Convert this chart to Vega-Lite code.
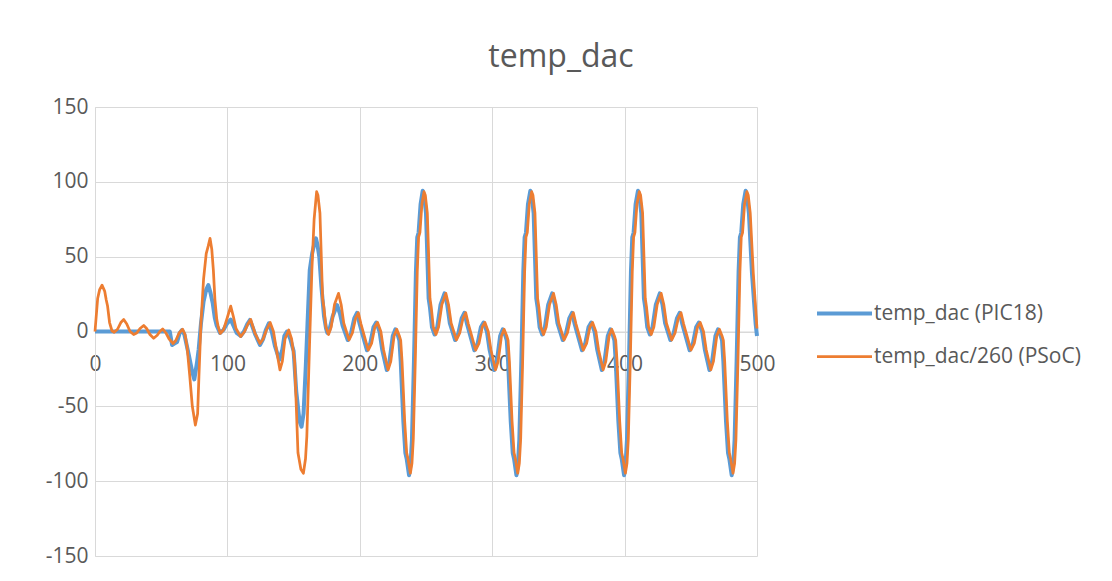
{
"$schema": "https://vega.github.io/schema/vega-lite/v6.json",
"width": 662, "height": 449,
"autosize": "none",
"padding": {"left": 95, "top": 107, "right": 355, "bottom": 25},
"background": "white",
"config": {"font": "Open Sans", "view": {"stroke": null}},
"title": {"text": "temp_dac", "fontSize": 32, "fontWeight": "normal", "color": "#595959", "anchor": "middle", "frame": "group", "dx": 135, "offset": 22},
"encoding": {
 "x": {"field": "x", "type": "quantitative", "scale": {"domain": [0, 500], "nice": false},
  "axis": {"values": [0, 100, 200, 300, 400, 500], "offset": -224.5, "ticks": false, "domainColor": "#d9d9d9", "gridColor": "#d9d9d9", "labelFontSize": 21, "labelColor": "#595959", "labelPadding": 22, "labelFlush": false, "labelOverlap": false, "title": null}},
 "y": {"field": "y", "type": "quantitative", "scale": {"domain": [-150, 150], "nice": false},
  "axis": {"values": [-150, -100, -50, 0, 50, 100, 150], "labelExpr": "toString(datum.value)", "ticks": false, "domainColor": "#d9d9d9", "gridColor": "#d9d9d9", "labelFontSize": 21, "labelColor": "#595959", "labelPadding": 7, "title": null}}
},
"layer": [
 {
  "data": {"values": [
{"x":0,"y":0},{"x":56.5,"y":0},{"x":58.2,"y":-9},{"x":60,"y":-8},{"x":62,"y":-7},{"x":64,"y":-1},{"x":65.7,"y":1},{"x":67.5,"y":-2},{"x":70.7,"y":-15},{"x":73.2,"y":-26},{"x":75,"y":-32},{"x":77,"y":-21},{"x":78.3,"y":-12},{"x":80,"y":5},{"x":82,"y":20},{"x":84,"y":28},{"x":85.6,"y":31},{"x":87.2,"y":26},{"x":88.9,"y":19},{"x":90.5,"y":9},{"x":91.9,"y":4},{"x":94.4,"y":-1},{"x":97,"y":1},{"x":99.5,"y":5},{"x":102.5,"y":8},{"x":104.5,"y":4},{"x":107,"y":-1},{"x":110,"y":-3},{"x":112.5,"y":0},{"x":115,"y":5},{"x":117,"y":7.7},{"x":119,"y":3},{"x":121,"y":-2},{"x":124.6,"y":-9},{"x":127,"y":-5},{"x":129,"y":1},{"x":131.3,"y":5.5},{"x":133.5,"y":0},{"x":136,"y":-10},{"x":139.2,"y":-19},{"x":141.5,"y":-12},{"x":143,"y":-3},{"x":145,"y":0},{"x":147.5,"y":-5},{"x":150,"y":-13},{"x":152,"y":-40},{"x":154.5,"y":-60},{"x":156,"y":-63.6},{"x":157.5,"y":-55},{"x":159.2,"y":-23.5},{"x":160.5,"y":5},{"x":162.2,"y":41},{"x":164,"y":52},{"x":165.5,"y":58},{"x":166.9,"y":62.2},{"x":168,"y":58},{"x":169.4,"y":50},{"x":171,"y":30},{"x":173,"y":10},{"x":174.5,"y":2},{"x":175.5,"y":-1},{"x":177,"y":1},{"x":179.5,"y":10},{"x":182.8,"y":17.7},{"x":185,"y":12},{"x":187,"y":4},{"x":190.9,"y":-5.7},
{"x":193.4,"y":-1},{"x":195.9,"y":9},{"x":197.9,"y":12.5},{"x":199.9,"y":5},{"x":202.4,"y":-3},{"x":205.4,"y":-12.5},{"x":207.9,"y":-8},{"x":210.4,"y":3},{"x":212.4,"y":6},{"x":214.9,"y":0},{"x":216.9,"y":-12},{"x":220.4,"y":-25.7},{"x":222.4,"y":-20},{"x":224.9,"y":-3},{"x":226.9,"y":1.5},{"x":228.9,"y":-3},{"x":229.9,"y":-6},{"x":230.9,"y":-20},{"x":232.9,"y":-60},{"x":234.4,"y":-81},{"x":235.4,"y":-85},{"x":237.2,"y":-96},{"x":238.4,"y":-88},{"x":239.4,"y":-72},{"x":240.9,"y":-20},{"x":242.4,"y":40},{"x":243.4,"y":63},{"x":244.4,"y":66},{"x":245.9,"y":85},
{"x":247.5,"y":94},{"x":248.5,"y":91},{"x":250,"y":79},{"x":252,"y":22},{"x":253,"y":16},{"x":254.5,"y":3},{"x":256.5,"y":-2},{"x":258.5,"y":3},{"x":261,"y":18},{"x":264,"y":25.5},{"x":266,"y":18},{"x":268,"y":5.5},{"x":272,"y":-5.7},{"x":274.5,"y":-1},{"x":277,"y":9},{"x":279,"y":12.5},{"x":281,"y":5},{"x":283.5,"y":-3},{"x":286.5,"y":-12.5},{"x":289,"y":-8},{"x":291.5,"y":3},{"x":293.5,"y":6},{"x":296,"y":0},{"x":298,"y":-12},{"x":301.5,"y":-25.7},{"x":303.5,"y":-20},{"x":306,"y":-3},{"x":308,"y":1.5},{"x":310,"y":-3},{"x":311,"y":-6},{"x":312,"y":-20},{"x":314,"y":-60},{"x":315.5,"y":-81},{"x":316.5,"y":-85},{"x":318.3,"y":-96},{"x":319.5,"y":-88},{"x":320.5,"y":-72},{"x":322,"y":-20},{"x":323.5,"y":40},{"x":324.5,"y":63},{"x":325.5,"y":66},{"x":327,"y":85},
{"x":328.8,"y":94},{"x":329.8,"y":91},{"x":331.3,"y":79},{"x":333.3,"y":22},{"x":334.3,"y":16},{"x":335.8,"y":3},{"x":337.8,"y":-2},{"x":339.8,"y":3},{"x":342.3,"y":18},{"x":345.3,"y":25.5},{"x":347.3,"y":18},{"x":349.3,"y":5.5},{"x":353.3,"y":-5.7},{"x":355.8,"y":-1},{"x":358.3,"y":9},{"x":360.3,"y":12.5},{"x":362.3,"y":5},{"x":364.8,"y":-3},{"x":367.8,"y":-12.5},{"x":370.3,"y":-8},{"x":372.8,"y":3},{"x":374.8,"y":6},{"x":377.3,"y":0},{"x":379.3,"y":-12},{"x":382.8,"y":-25.7},{"x":384.8,"y":-20},{"x":387.3,"y":-3},{"x":389.3,"y":1.5},{"x":391.3,"y":-3},{"x":392.3,"y":-6},{"x":393.3,"y":-20},{"x":395.3,"y":-60},{"x":396.8,"y":-81},{"x":397.8,"y":-85},{"x":399.6,"y":-96},{"x":400.8,"y":-88},{"x":401.8,"y":-72},{"x":403.3,"y":-20},{"x":404.8,"y":40},{"x":405.8,"y":63},{"x":406.8,"y":66},{"x":408.3,"y":85},
{"x":410.1,"y":94},{"x":411.1,"y":91},{"x":412.6,"y":79},{"x":414.6,"y":22},{"x":415.6,"y":16},{"x":417.1,"y":3},{"x":419.1,"y":-2},{"x":421.1,"y":3},{"x":423.6,"y":18},{"x":426.6,"y":25.5},{"x":428.6,"y":18},{"x":430.6,"y":5.5},{"x":434.6,"y":-5.7},{"x":437.1,"y":-1},{"x":439.6,"y":9},{"x":441.6,"y":12.5},{"x":443.6,"y":5},{"x":446.1,"y":-3},{"x":449.1,"y":-12.5},{"x":451.6,"y":-8},{"x":454.1,"y":3},{"x":456.1,"y":6},{"x":458.6,"y":0},{"x":460.6,"y":-12},{"x":464.1,"y":-25.7},{"x":466.1,"y":-20},{"x":468.6,"y":-3},{"x":470.6,"y":1.5},{"x":472.6,"y":-3},{"x":473.6,"y":-6},{"x":474.6,"y":-20},{"x":476.6,"y":-60},{"x":478.1,"y":-81},{"x":479.1,"y":-85},{"x":480.9,"y":-96},{"x":482.1,"y":-88},{"x":483.1,"y":-72},{"x":484.6,"y":-20},{"x":486.1,"y":40},{"x":487.1,"y":63},{"x":488.1,"y":66},{"x":489.6,"y":85},
{"x":491.4,"y":94},{"x":492.4,"y":91},{"x":493.9,"y":79},{"x":496.2,"y":39},{"x":499,"y":5},{"x":500,"y":-3}
  ]},
  "mark": {"type": "line", "strokeWidth": 4, "strokeJoin": "round"},
  "encoding": {"color": {"datum": "temp_dac (PIC18)", "type": "nominal",
   "scale": {"domain": ["temp_dac (PIC18)", "temp_dac/260 (PSoC)"], "range": ["#5B9BD5", "#ED7D31"]},
   "legend": {"orient": "none", "legendX": 739, "legendY": 196, "title": null, "symbolType": "stroke", "symbolSize": 3025, "rowPadding": 21, "padding": 0, "labelOffset": 19, "labelFontSize": 21, "labelColor": "#595959", "labelLimit": 400,
    "encode": {"symbols": {"update": {"strokeWidth": {"signal": "datum.value === 'temp_dac (PIC18)' ? 4 : 2.75"}}}}}}}
 },
 {
  "data": {"values": [
{"x":0,"y":0},{"x":2,"y":22},{"x":3.5,"y":28},{"x":5.3,"y":31},{"x":7.3,"y":27},{"x":8.5,"y":21},{"x":9.5,"y":17},{"x":11,"y":6},{"x":12.8,"y":0.5},{"x":14.5,"y":-0.5},{"x":17,"y":1.5},{"x":19.5,"y":6},{"x":21.7,"y":8},{"x":24,"y":5},{"x":26.5,"y":0},{"x":29.2,"y":-2},{"x":31.5,"y":-1},{"x":34,"y":2},{"x":36.8,"y":4},{"x":39,"y":2},{"x":41.5,"y":-2},{"x":44.3,"y":-4.5},{"x":47,"y":-2.5},{"x":49,"y":0},{"x":51.1,"y":1.7},{"x":53.6,"y":-1},{"x":56,"y":-5},{"x":59,"y":-8},{"x":61,"y":-6},{"x":63.5,"y":-1},{"x":66.2,"y":1.5},{"x":68,"y":-2},{"x":69.5,"y":-10},{"x":71.5,"y":-29},{"x":73.5,"y":-50},{"x":75.8,"y":-62.5},{"x":77.5,"y":-55},{"x":78.5,"y":-30},{"x":80,"y":5},{"x":82,"y":35},{"x":84,"y":52},{"x":85.5,"y":57},{"x":86.9,"y":62.2},{"x":88.2,"y":55},{"x":89.4,"y":41},{"x":90.6,"y":21},{"x":92,"y":8},{"x":93.1,"y":3},{"x":94.6,"y":-1.3},{"x":97,"y":1},{"x":99.5,"y":8},{"x":102.5,"y":17},{"x":104.5,"y":10},{"x":106.5,"y":2},{"x":110,"y":-3.4},{"x":113,"y":0},{"x":115.5,"y":5},{"x":117.6,"y":8},{"x":119,"y":4},{"x":120.8,"y":-1},{"x":124.6,"y":-8},{"x":127,"y":-5},{"x":129.5,"y":1},{"x":132.3,"y":6},{"x":134.8,"y":0},{"x":137,"y":-12},{"x":139.7,"y":-25.7},{"x":141.5,"y":-20},{"x":143.5,"y":-5},{"x":146.3,"y":1},{"x":148.5,"y":-5},{"x":150.8,"y":-20},{"x":153.3,"y":-81},{"x":155.5,"y":-92},{"x":157.4,"y":-94.7},{"x":159,"y":-85},{"x":160,"y":-70},{"x":162,"y":-10},{"x":163.8,"y":41},{"x":165.5,"y":75},{"x":167.4,"y":93.4},
{"x":168.4,"y":91},{"x":169.9,"y":79},{"x":171.9,"y":22},{"x":172.9,"y":16},{"x":174.4,"y":3},{"x":176.4,"y":-2},{"x":178.4,"y":3},{"x":180.9,"y":18},{"x":183.9,"y":25.5},{"x":185.9,"y":18},{"x":187.9,"y":5.5},{"x":191.9,"y":-5.7},{"x":194.4,"y":-1},{"x":196.9,"y":9},{"x":198.9,"y":12.5},{"x":200.9,"y":5},{"x":203.4,"y":-3},{"x":206.4,"y":-12.5},{"x":208.9,"y":-8},{"x":211.4,"y":3},{"x":213.4,"y":6},{"x":215.9,"y":0},{"x":217.9,"y":-12},{"x":221.4,"y":-25.7},{"x":223.4,"y":-20},{"x":225.9,"y":-3},{"x":227.9,"y":1.5},{"x":229.9,"y":-3},{"x":230.9,"y":-6},{"x":231.9,"y":-20},{"x":233.9,"y":-60},{"x":235.4,"y":-81},{"x":236.4,"y":-85},{"x":238.2,"y":-94.7},{"x":239.4,"y":-88},{"x":240.4,"y":-72},{"x":241.9,"y":-20},{"x":243.4,"y":40},{"x":244.4,"y":63},{"x":245.4,"y":66},{"x":246.9,"y":85},
{"x":248.5,"y":93.4},{"x":249.5,"y":91},{"x":251,"y":79},{"x":253,"y":22},{"x":254,"y":16},{"x":255.5,"y":3},{"x":257.5,"y":-2},{"x":259.5,"y":3},{"x":262,"y":18},{"x":265,"y":25.5},{"x":267,"y":18},{"x":269,"y":5.5},{"x":273,"y":-5.7},{"x":275.5,"y":-1},{"x":278,"y":9},{"x":280,"y":12.5},{"x":282,"y":5},{"x":284.5,"y":-3},{"x":287.5,"y":-12.5},{"x":290,"y":-8},{"x":292.5,"y":3},{"x":294.5,"y":6},{"x":297,"y":0},{"x":299,"y":-12},{"x":302.5,"y":-25.7},{"x":304.5,"y":-20},{"x":307,"y":-3},{"x":309,"y":1.5},{"x":311,"y":-3},{"x":312,"y":-6},{"x":313,"y":-20},{"x":315,"y":-60},{"x":316.5,"y":-81},{"x":317.5,"y":-85},{"x":319.3,"y":-94.7},{"x":320.5,"y":-88},{"x":321.5,"y":-72},{"x":323,"y":-20},{"x":324.5,"y":40},{"x":325.5,"y":63},{"x":326.5,"y":66},{"x":328,"y":85},
{"x":329.8,"y":93.4},{"x":330.8,"y":91},{"x":332.3,"y":79},{"x":334.3,"y":22},{"x":335.3,"y":16},{"x":336.8,"y":3},{"x":338.8,"y":-2},{"x":340.8,"y":3},{"x":343.3,"y":18},{"x":346.3,"y":25.5},{"x":348.3,"y":18},{"x":350.3,"y":5.5},{"x":354.3,"y":-5.7},{"x":356.8,"y":-1},{"x":359.3,"y":9},{"x":361.3,"y":12.5},{"x":363.3,"y":5},{"x":365.8,"y":-3},{"x":368.8,"y":-12.5},{"x":371.3,"y":-8},{"x":373.8,"y":3},{"x":375.8,"y":6},{"x":378.3,"y":0},{"x":380.3,"y":-12},{"x":383.8,"y":-25.7},{"x":385.8,"y":-20},{"x":388.3,"y":-3},{"x":390.3,"y":1.5},{"x":392.3,"y":-3},{"x":393.3,"y":-6},{"x":394.3,"y":-20},{"x":396.3,"y":-60},{"x":397.8,"y":-81},{"x":398.8,"y":-85},{"x":400.6,"y":-94.7},{"x":401.8,"y":-88},{"x":402.8,"y":-72},{"x":404.3,"y":-20},{"x":405.8,"y":40},{"x":406.8,"y":63},{"x":407.8,"y":66},{"x":409.3,"y":85},
{"x":411.1,"y":93.4},{"x":412.1,"y":91},{"x":413.6,"y":79},{"x":415.6,"y":22},{"x":416.6,"y":16},{"x":418.1,"y":3},{"x":420.1,"y":-2},{"x":422.1,"y":3},{"x":424.6,"y":18},{"x":427.6,"y":25.5},{"x":429.6,"y":18},{"x":431.6,"y":5.5},{"x":435.6,"y":-5.7},{"x":438.1,"y":-1},{"x":440.6,"y":9},{"x":442.6,"y":12.5},{"x":444.6,"y":5},{"x":447.1,"y":-3},{"x":450.1,"y":-12.5},{"x":452.6,"y":-8},{"x":455.1,"y":3},{"x":457.1,"y":6},{"x":459.6,"y":0},{"x":461.6,"y":-12},{"x":465.1,"y":-25.7},{"x":467.1,"y":-20},{"x":469.6,"y":-3},{"x":471.6,"y":1.5},{"x":473.6,"y":-3},{"x":474.6,"y":-6},{"x":475.6,"y":-20},{"x":477.6,"y":-60},{"x":479.1,"y":-81},{"x":480.1,"y":-85},{"x":481.9,"y":-94.7},{"x":483.1,"y":-88},{"x":484.1,"y":-72},{"x":485.6,"y":-20},{"x":487.1,"y":40},{"x":488.1,"y":63},{"x":489.1,"y":66},{"x":490.6,"y":85},
{"x":492.4,"y":93.4},{"x":493.4,"y":91},{"x":494.9,"y":79},{"x":497.2,"y":39},{"x":500,"y":2}
  ]},
  "mark": {"type": "line", "strokeWidth": 2.75, "strokeJoin": "round"},
  "encoding": {"color": {"datum": "temp_dac/260 (PSoC)", "type": "nominal"}}
 }
]
}
